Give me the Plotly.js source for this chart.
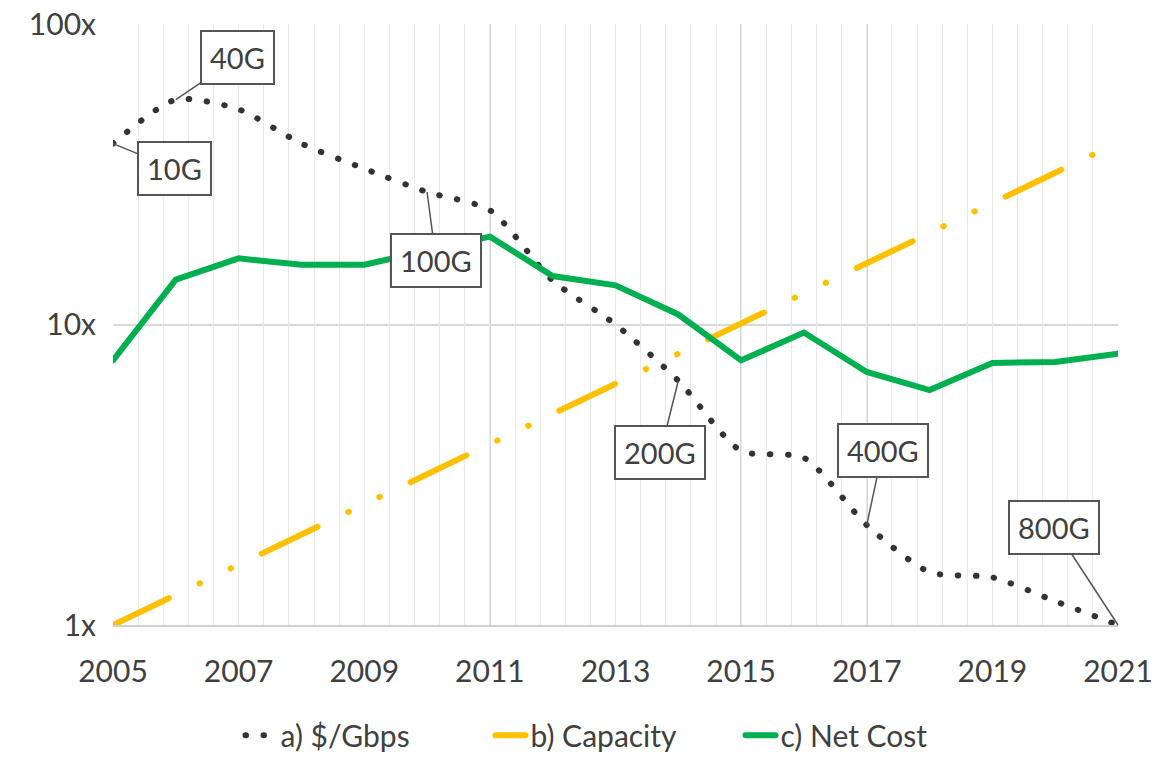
<!DOCTYPE html>
<html>
<head>
<meta charset="utf-8">
<script src="https://cdn.plot.ly/plotly-3.0.1.min.js"></script>
<style>
  body { margin: 0; background: #fff; }
  #chart { width: 1157px; height: 762px; }
  .js-line { stroke-linecap: round; }
</style>
</head>
<body>
<div id="chart"></div>
<script>
const years = [2005, 2006, 2007, 2008, 2009, 2010, 2011, 2012, 2013, 2014, 2015, 2016, 2017, 2018, 2019, 2020, 2021];

const costPerGbps = [40, 56, 52, 40, 33, 27.6, 24, 14, 10, 6.5, 3.8, 3.6, 2.15, 1.5, 1.44, 1.2, 1.0];
const capacity = [1.0, 1.26, 1.59, 2.0, 2.52, 3.17, 4.0, 5.04, 6.35, 8.0, 10.1, 12.7, 16.0, 20.2, 25.4, 32.0, 40.3];
const netCost = [7.6, 14.1, 16.6, 15.8, 15.8, 17.7, 19.6, 14.5, 13.5, 10.8, 7.6, 9.4, 6.95, 6.05, 7.45, 7.5, 8.0];

const speedLabels = ['10G', '40G', '100G', '200G', '400G', '800G'];
const speedYears = [2005, 2006, 2010, 2014, 2017, 2021];
const labelOffsets = [[61, 25], [62, -42], [9, 68], [-18, 72], [16, -75], [-64, -98]];

const font = 'Lato, "Open Sans", sans-serif';

var data = [{
  x: years, y: costPerGbps,
  name: 'a) $/Gbps',
  mode: 'lines',
  line: {color: '#333333', width: 6, dash: '0.5px,17.5px', shape: 'spline', smoothing: 0.7}
}, {
  x: years, y: capacity,
  name: 'b) Capacity',
  mode: 'lines',
  line: {color: '#ffc000', width: 6, dash: '62px,34px,0.5px,34px,0.5px,34px'}
}, {
  x: years, y: netCost,
  name: 'c) Net Cost',
  mode: 'lines',
  line: {color: '#00b050', width: 6}
}];

var annotations = speedLabels.map(function (lbl, i) {
  var yr = speedYears[i];
  return {
    x: yr, y: Math.log10(costPerGbps[years.indexOf(yr)]),
    xref: 'x', yref: 'y',
    text: lbl,
    showarrow: true, arrowhead: 0, arrowwidth: 1.5, arrowcolor: '#555',
    ax: labelOffsets[i][0], ay: labelOffsets[i][1],
    bordercolor: '#555', borderwidth: 2, borderpad: 8,
    bgcolor: '#fff',
    font: {family: font, size: 29, color: '#404040'}
  };
});

var layout = {
  width: 1157, height: 762,
  margin: {l: 113, r: 39, t: 24, b: 137},
  paper_bgcolor: '#fff', plot_bgcolor: '#fff',
  font: {family: font, size: 30, color: '#404040'},
  showlegend: true,
  legend: {
    orientation: 'h', x: 0.5, xanchor: 'center',
    yref: 'container', y: 0.035, yanchor: 'middle',
    font: {family: font, size: 30, color: '#404040'},
    entrywidth: 205, entrywidthmode: 'pixels',
    tracegroupgap: 0
  },
  xaxis: {
    range: [2005, 2021], tick0: 2005, dtick: 2,
    showgrid: true, gridcolor: '#d6d6d6', gridwidth: 1.5,
    showline: true, linecolor: '#d0d0d0', linewidth: 2,
    ticks: '', ticklabelstandoff: 19,
    zeroline: false, fixedrange: true
  },
  xaxis2: {
    overlaying: 'x', matches: 'x',
    range: [2005, 2021], tick0: 2005, dtick: 0.4,
    showgrid: true, gridcolor: '#e9e9e9', gridwidth: 1,
    showticklabels: false, ticks: '', zeroline: false
  },
  yaxis: {
    type: 'log', range: [0, 2],
    tickvals: [1, 10, 100], ticktext: ['1x', '10x', '100x'],
    showgrid: true, gridcolor: '#d9d9d9', gridwidth: 2,
    ticks: '', ticklabelstandoff: 16,
    zeroline: false, fixedrange: true
  },
  annotations: annotations
};

// empty trace so the minor-grid axis is drawn
data.unshift({x: [], y: [], xaxis: 'x2', yaxis: 'y', showlegend: false, hoverinfo: 'skip'});

Plotly.newPlot('chart', data, layout, {displayModeBar: false, staticPlot: true});
</script>
</body>
</html>
